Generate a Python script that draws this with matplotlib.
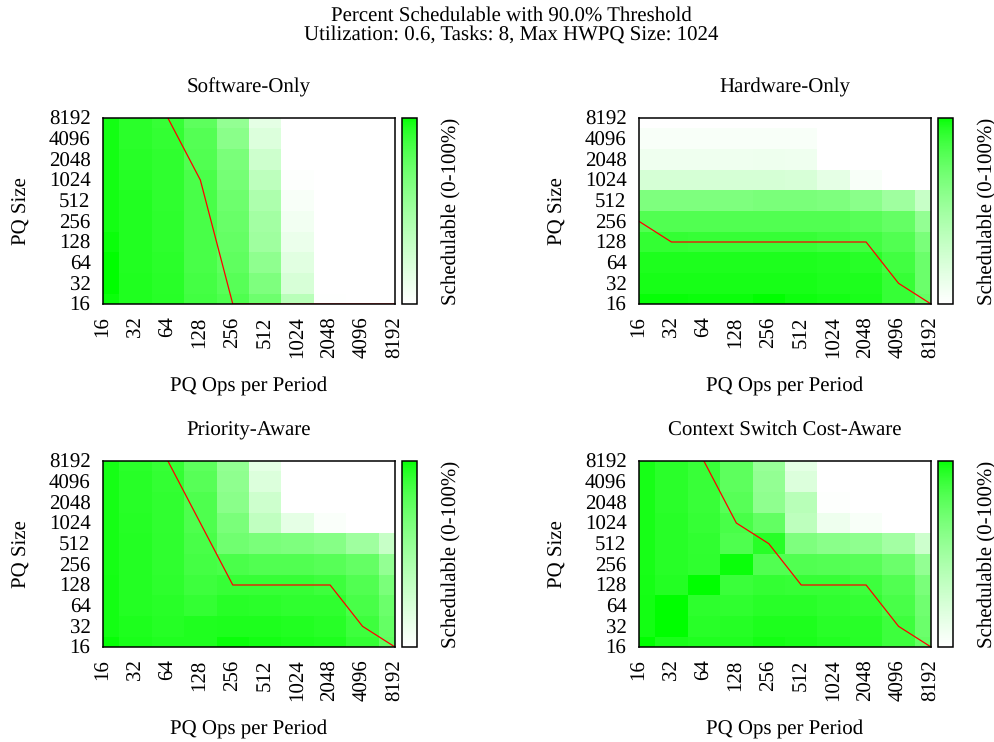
import matplotlib

matplotlib.use("Agg")
import matplotlib.pyplot as plt
from matplotlib.colors import LinearSegmentedColormap
from matplotlib.ticker import NullLocator
import numpy as np

plt.rcParams["font.family"] = ["Liberation Serif", "DejaVu Serif"]
plt.rcParams["text.hinting"] = "none"

W, H = 995, 742
sizes = [16, 32, 64, 128, 256, 512, 1024, 2048, 4096, 8192]
size_labels = ["16", "32", "64", "128", "256", "512", "1024", "2048", "4096", "8192"]

# percent schedulable, one row per PQ size, from 16 up to 8192
software = [
    [99, 95.5, 94, 87, 83, 72, 38, 1, 0, 0],
    [100, 95.5, 93.5, 86, 80, 65, 23, 0, 0, 0],
    [100, 95, 93, 85, 77, 58, 17.5, 0, 0, 0],
    [99, 95, 92.5, 85, 75, 51, 12, 0, 0, 0],
    [98, 95, 92.5, 85, 74, 49, 7.5, 0, 0, 0],
    [98, 95, 92, 85, 72, 44, 4.5, 0, 0, 0],
    [98, 94.5, 92, 84, 69, 36, 1.5, 0, 0, 0],
    [98, 94, 92, 82, 67, 28, 0, 0, 0, 0],
    [98, 93, 91, 81, 60, 20, 0, 0, 0, 0],
    [98, 93, 90, 78, 56, 15, 0, 0, 0, 0],
]
hardware = [
    [99.5, 99.5, 99, 99, 100, 98.5, 97.7, 96.8, 90, 75],
    [97, 97, 97, 97, 97, 97, 96, 96, 90, 73],
    [96, 96, 96, 96, 96, 96, 95, 94, 87, 73],
    [91, 91, 90, 90, 90, 90, 88, 87, 82, 67],
    [82, 82, 82, 82, 82, 82, 82, 80, 75, 56],
    [65, 65, 65, 65, 67, 67, 65, 60, 51, 31],
    [24, 24, 24, 24, 24, 23, 15, 4.5, 0, 0],
    [9, 9, 9, 9, 10, 9, 0, 0, 0, 0],
    [4.5, 4.5, 4.5, 4.5, 4.5, 4.5, 0, 0, 0, 0],
    [0, 0, 0, 0, 0, 0, 0, 0, 0, 0],
]
priority = [
    [99.5, 96.8, 95.5, 95.5, 99, 98, 96.8, 95.8, 91, 77],
    [98, 95.8, 94.5, 95.5, 95.8, 95.8, 95, 94, 88, 75],
    [98, 94.8, 93.5, 91, 94, 93, 92, 92, 85, 73],
    [98, 94.8, 92.5, 88, 90, 90, 90, 88, 82, 67],
    [97.5, 94.8, 92, 86, 84, 82, 82, 80, 75, 56],
    [97.5, 94.8, 92, 85, 71, 67, 65, 62, 51, 31],
    [97.5, 94.5, 91.5, 83, 67, 35, 15, 3, 0, 0],
    [97.5, 94, 91.5, 83, 60, 28, 0, 0, 0, 0],
    [97.5, 94, 91, 80, 58, 20, 0, 0, 0, 0],
    [97.5, 93, 90, 78, 56, 15, 0, 0, 0, 0],
]
context = [
    [100, 96.8, 95.5, 95.5, 97.7, 96.8, 95, 94, 88, 75],
    [98, 100, 93.5, 94.5, 95.8, 95.8, 93.6, 93.6, 88, 73],
    [98, 100, 92.5, 92, 93.6, 93.6, 92, 91, 85, 71],
    [97.5, 94.8, 100, 89, 91, 90, 90, 88, 82, 67],
    [97, 94, 92, 99, 82, 82, 81, 80, 73, 56],
    [97, 94, 91.5, 83, 94, 65, 60, 58, 49, 28],
    [97, 94, 90.5, 85, 76, 36, 10, 4.5, 0, 0],
    [97, 93, 89.5, 80, 58, 39, 1.5, 0, 0, 0],
    [97, 93, 89.5, 78, 56, 20, 0, 0, 0, 0],
    [97, 93, 89.5, 78, 54, 15, 0, 0, 0, 0],
]

# 90% threshold lines: ops per period and PQ size
software_ops = [64, 128, 256, 512, 1024, 2048, 4096, 8192]
software_pq = [8192, 1024, 16, 16, 16, 16, 16, 16]
hardware_ops = sizes
hardware_pq = [256, 128, 128, 128, 128, 128, 128, 128, 32, 16]
priority_ops = [64, 128, 256, 512, 1024, 2048, 4096, 8192]
priority_pq = [8192, 1024, 128, 128, 128, 128, 32, 16]
context_ops = [64, 128, 256, 512, 1024, 2048, 4096, 8192]
context_pq = [8192, 1024, 512, 128, 128, 128, 32, 16]

# white to green with gnuplot's palette gamma
steps = np.linspace(0, 1, 256)
fade = (1 - steps) ** (2 / 3)
greens = LinearSegmentedColormap.from_list(
    "greens", list(zip(steps, zip(fade, np.ones(256), fade)))
)
edges = np.append(np.array(sizes) / np.sqrt(2), sizes[-1] * np.sqrt(2))


def px_axes(x0, y0, x1, y1):
    return fig.add_axes([x0 / W, 1 - y1 / H, (x1 - x0) / W, (y1 - y0) / H])


def panel(x0, y0, title, values, line_x, line_y):
    x1 = x0 + 292
    y1 = y0 + 186
    ax = px_axes(x0, y0, x1, y1)
    mesh = ax.pcolormesh(
        edges, edges, values, cmap=greens, vmin=0, vmax=100, antialiased=False
    )
    ax.plot(line_x, line_y, color="red", linewidth=0.9)
    ax.set_xscale("log", base=2)
    ax.set_yscale("log", base=2)
    ax.set_xlim(16, 8192)
    ax.set_ylim(16, 8192)
    ax.set_xticks(sizes, size_labels, rotation=90)
    ax.set_yticks(sizes, size_labels)
    ax.xaxis.set_minor_locator(NullLocator())
    ax.yaxis.set_minor_locator(NullLocator())
    ax.tick_params(axis="both", length=0, labelsize=15, pad=9)
    for spine in ax.spines.values():
        spine.set_linewidth(1.1)

    cax = px_axes(x1 + 7, y0, x1 + 22, y1)
    cbar = fig.colorbar(mesh, cax=cax)
    cbar.set_ticks([])
    cbar.outline.set_linewidth(1.1)

    fig.text((x0 + 146) / W, 1 - (y0 - 31) / H, title, ha="center", va="center", fontsize=15)
    fig.text((x0 + 146) / W, 1 - (y1 + 82) / H, "PQ Ops per Period", ha="center", va="center", fontsize=15)
    fig.text((x0 - 81) / W, 1 - (y0 + 93) / H, "PQ Size", rotation=90, ha="center", va="center", fontsize=15)
    fig.text((x0 + 348) / W, 1 - (y0 + 93) / H, "Schedulable (0-100%)", rotation=90, ha="center", va="center", fontsize=15)


fig = plt.figure(figsize=(W / 100, H / 100), dpi=100)
fig.text(
    511 / W,
    1 - 25 / H,
    "Percent Schedulable with 90.0% Threshold\nUtilization: 0.6, Tasks: 8, Max HWPQ Size: 1024",
    ha="center",
    va="center",
    fontsize=15,
    linespacing=0.95,
)
panel(103, 118, "Software-Only", software, software_ops, software_pq)
panel(639, 118, "Hardware-Only", hardware, hardware_ops, hardware_pq)
panel(103, 461, "Priority-Aware", priority, priority_ops, priority_pq)
panel(639, 461, "Context Switch Cost-Aware", context, context_ops, context_pq)
fig.savefig("out.png", dpi=100)
